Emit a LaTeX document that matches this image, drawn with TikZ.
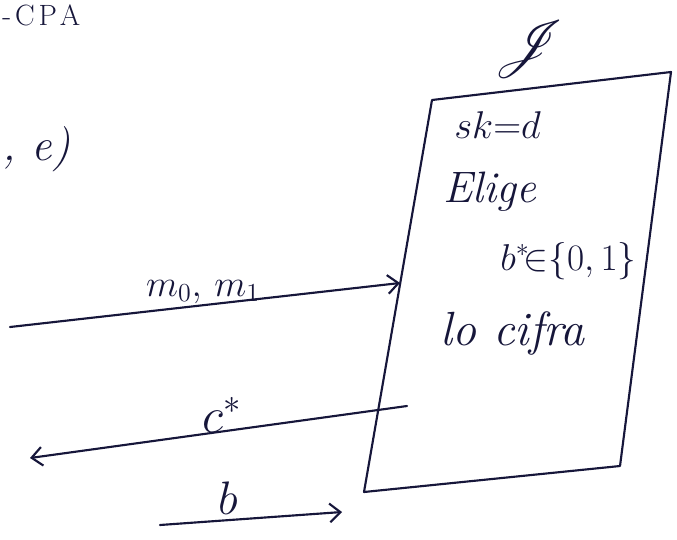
\documentclass[tikz,border=0pt]{standalone}
\usepackage{mathrsfs}
\usetikzlibrary{arrows.meta}
\definecolor{ink}{HTML}{16163A}
\newcommand{\fs}[1]{\fontsize{#1}{#1}\selectfont}
\begin{document}
\begin{tikzpicture}[x=0.75pt,y=-0.75pt,
  pen/.style={draw=ink,line width=1.6pt,line cap=round,line join=round},
  arr/.style={pen,-{Straight Barb[length=8pt,width=14pt,line width=1.6pt]}},
  hand/.style={text=ink,inner sep=0pt,font=\fs{30}\itshape},
  mth/.style={text=ink,inner sep=0pt,font=\fs{20}}]
\useasboundingbox (0,0) rectangle (677,539);
% box of the challenger
\coordinate (tl) at (432,100);
\coordinate (tr) at (671,72);
\coordinate (br) at (620,466);
\coordinate (bl) at (364,492);
\draw[pen] (tl) -- (tr) -- (br) -- (bl) -- cycle;
% texts
\node[hand,anchor=base west,font=\fs{22}\upshape] (cpa) at (2,25) {-\kern3pt C\kern3pt P\kern2pt A};
\node[hand,anchor=base west,font=\fs{34}\itshape] (e) at (2,160) {, e)};
\node[mth,anchor=south,scale=2.1] (J) at (530,78) {$\color{ink}\mathscr{J}$};
\node[mth,anchor=base west,scale=1.4] (sk) at (454,138) {$\color{ink}sk{=}d$};
\node[hand,anchor=base west,font=\fs{33}\itshape] (elige) at (443,202) {Elige};
\node[mth,anchor=base west,scale=1.35] (bstar) at (500,270) {$\color{ink}b^{*}\!{\in}\{0,1\}$};
\node[hand,anchor=base west,font=\fs{36}\itshape] (cifra) at (440,345) {lo cifra};
\node[mth,anchor=base,scale=1.35] (m) at (203,296) {$\color{ink}m_0,\,m_1$};
\node[mth,anchor=base,scale=1.8] (c) at (222,432) {$\color{ink}c^{*}$};
\node[mth,anchor=base,scale=1.7] (b) at (228,514) {$\color{ink}b$};
% arrows
\coordinate (m0) at (10,327);
\coordinate (m1) at (400,283);
\coordinate (c0) at (407,406);
\coordinate (c1) at (30,458);
\coordinate (b0) at (160,525);
\coordinate (b1) at (342,512);
\draw[arr] (m0) -- (m1);
\draw[arr] (c0) -- (c1);
\draw[arr] (b0) -- (b1);
\end{tikzpicture}
\end{document}
